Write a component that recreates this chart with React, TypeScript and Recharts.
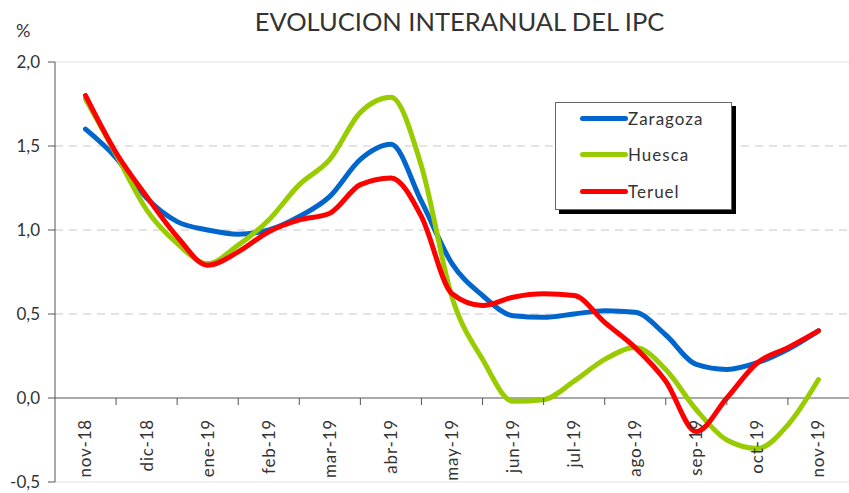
import { LineChart, Line, XAxis, YAxis, ReferenceLine } from 'recharts';

const months = ['nov-18', 'dic-18', 'ene-19', 'feb-19', 'mar-19', 'abr-19', 'may-19', 'jun-19', 'jul-19', 'ago-19', 'sep-19', 'oct-19', 'nov-19'];

// posiciones cada media mensualidad (0 = nov-18, 12 = nov-19)
const steps = [0, 0.5, 1, 1.5, 2, 2.5, 3, 3.5, 4, 4.5, 5, 5.5, 6, 6.5, 7, 7.5, 8, 8.5, 9, 9.5, 10, 10.5, 11, 11.5, 12];

const zaragoza = [1.6, 1.43, 1.19, 1.05, 1.0, 0.975, 1.0, 1.08, 1.2, 1.42, 1.51, 1.17, 0.8, 0.61, 0.49, 0.48, 0.5, 0.52, 0.51, 0.375, 0.2, 0.17, 0.21, 0.29, 0.4];
const huesca = [1.78, 1.45, 1.12, 0.92, 0.8, 0.91, 1.06, 1.27, 1.42, 1.7, 1.79, 1.38, 0.6, 0.23, -0.02, -0.01, 0.1, 0.23, 0.3, 0.17, -0.07, -0.25, -0.3, -0.16, 0.11];
const teruel = [1.8, 1.46, 1.2, 0.96, 0.79, 0.87, 0.99, 1.06, 1.1, 1.27, 1.31, 1.08, 0.62, 0.55, 0.6, 0.62, 0.61, 0.45, 0.3, 0.1, -0.2, 0.0, 0.21, 0.3, 0.4];

const yTicks = [-0.5, 0, 0.5, 1, 1.5, 2];

const SERIES = [
    { key: 'zaragoza', name: 'Zaragoza', color: '#0066cc' },
    { key: 'huesca', name: 'Huesca', color: '#99cc00' },
    { key: 'teruel', name: 'Teruel', color: '#ff0000' },
];

const W = 849;
const H = 493;
const TOP = 62;
const BOTTOM = 482;
const LEFT = 55;
const Y_MIN = -0.5;
const Y_MAX = 2;
const ZERO_Y = BOTTOM - ((0 - Y_MIN) / (Y_MAX - Y_MIN)) * (BOTTOM - TOP);
const STEP = (W - LEFT) / months.length;

const data = steps.map((t, i) => ({
    t,
    zaragoza: zaragoza[i],
    huesca: huesca[i],
    teruel: teruel[i],
}));

const font = 'Lato, "Open Sans", sans-serif';

function MonthTick(props: any) {
    const { x, payload } = props;
    const label = months[payload.value];
    const ty = ZERO_Y + 21;
    return (
        <g>
            {payload.value > 0 && (
                <line x1={x - STEP / 2} x2={x - STEP / 2} y1={ZERO_Y} y2={ZERO_Y + 7} stroke="#555" strokeWidth={1} />
            )}
            <text
                x={x}
                y={ty}
                transform={`rotate(-90 ${x} ${ty})`}
                textAnchor="end"
                dy="0.35em"
                fill="#333"
                style={{ fontSize: 17, fontFamily: font, letterSpacing: 0.8 }}
            >
                {label}
            </text>
        </g>
    );
}

export default function App() {
    return (
        <div style={{ position: 'absolute', left: 0, top: 0, width: W, height: H, background: '#fff', fontFamily: font }}>
            <div style={{ position: 'absolute', left: 0, width: W, top: 6, textAlign: 'center', paddingLeft: 70, boxSizing: 'border-box', fontSize: 25.5, color: '#333' }}>
                EVOLUCION INTERANUAL DEL IPC
            </div>
            <div style={{ position: 'absolute', left: 16, top: 19, fontSize: 18, color: '#333' }}>%</div>
            <LineChart width={W} height={H} data={data} margin={{ top: TOP, right: 0, bottom: H - BOTTOM - 10, left: 8 }}>
                <ReferenceLine y={2} stroke="#ebebf0" strokeWidth={1.5} />
                <ReferenceLine y={-0.5} stroke="#ebebf0" strokeWidth={1.5} />
                <ReferenceLine y={1.5} stroke="#c8c8c8" strokeDasharray="8 6" />
                <ReferenceLine y={1} stroke="#c8c8c8" strokeDasharray="8 6" />
                <ReferenceLine y={0.5} stroke="#c8c8c8" strokeDasharray="8 6" />
                <XAxis
                    dataKey="t"
                    type="number"
                    domain={[-0.5, 12.5]}
                    ticks={months.map((_, i) => i)}
                    interval={0}
                    axisLine={false}
                    tickLine={false}
                    height={10}
                    tick={<MonthTick />}
                />
                <YAxis
                    domain={[Y_MIN, Y_MAX]}
                    ticks={yTicks}
                    width={47}
                    tickSize={7}
                    tickMargin={8}
                    axisLine={{ stroke: '#555' }}
                    tickLine={{ stroke: '#555' }}
                    tick={{ fill: '#333', fontSize: 17, fontFamily: font }}
                    tickFormatter={(v: number) => v.toFixed(1).replace('.', ',')}
                />
                <ReferenceLine y={0} stroke="#555" strokeWidth={1.2} />
                {SERIES.map(s => (
                    <Line
                        key={s.key}
                        type="monotone"
                        dataKey={s.key}
                        stroke={s.color}
                        strokeWidth={5}
                        dot={false}
                        isAnimationActive={false}
                        strokeLinecap="round"
                    />
                ))}
            </LineChart>
            <div style={{ position: 'absolute', left: 555, top: 102, width: 177, height: 108, border: '1px solid #666', background: '#fff', boxShadow: '4px 4px 0 #000', boxSizing: 'border-box' }}>
                {SERIES.map((s, i) => (
                    <div key={s.key} style={{ position: 'absolute', left: 24, top: 3 + i * 36.5, display: 'flex', alignItems: 'center', height: 24 }}>
                        <span style={{ display: 'inline-block', width: 48, height: 5, borderRadius: 3, background: s.color }} />
                        <span style={{ fontSize: 17, color: '#333', letterSpacing: 1 }}>{s.name}</span>
                    </div>
                ))}
            </div>
        </div>
    );
}
